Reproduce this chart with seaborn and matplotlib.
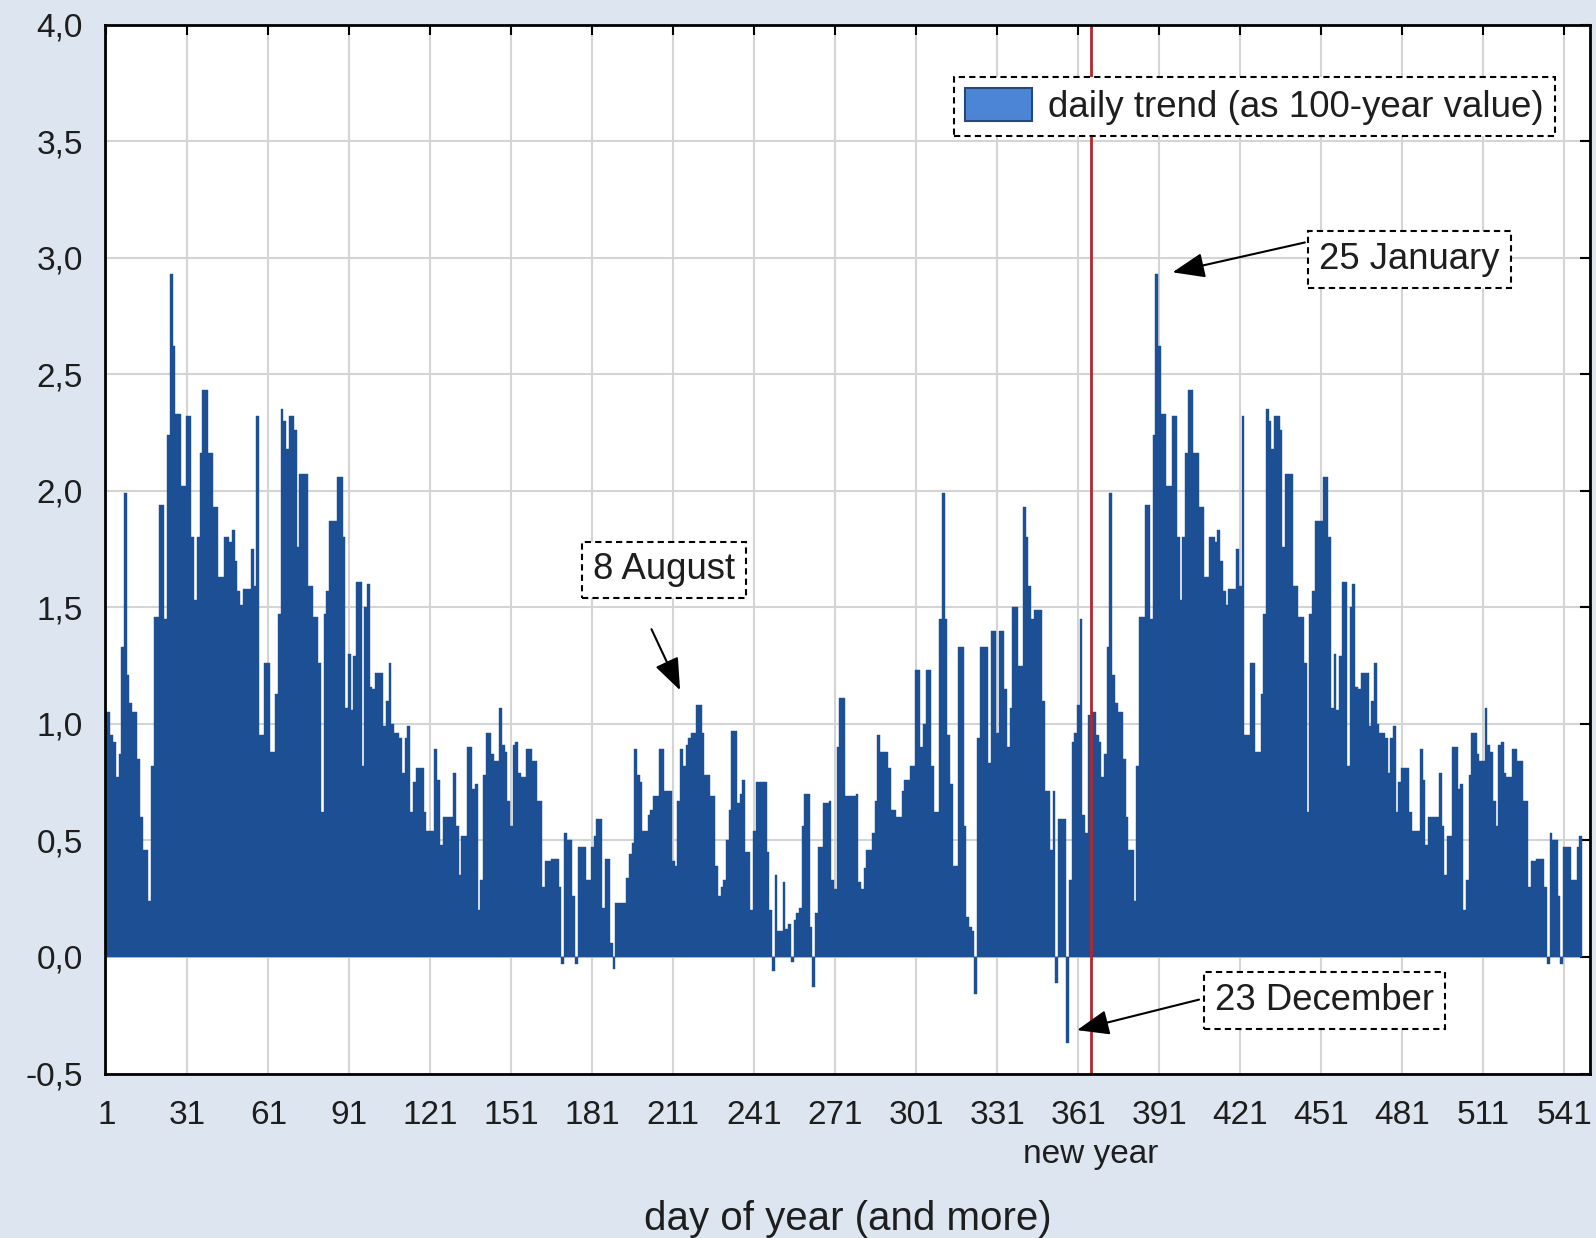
import numpy as np
import pandas as pd
import seaborn as sns
import matplotlib.pyplot as plt
from matplotlib.patches import Patch
from matplotlib.ticker import FuncFormatter
import matplotlib.transforms as mtransforms

# daily trend (as 100-year value) for day 1..365
year_trend = [
    1.05, 1.05, 0.95, 0.92, 0.77, 0.87, 1.33, 1.99, 1.21, 1.09,
    1.05, 1.05, 0.85, 0.60, 0.46, 0.46, 0.24, 0.82, 1.46, 1.46,
    1.94, 1.94, 1.45, 2.24, 2.93, 2.62, 2.33, 2.33, 2.02, 2.02,
    2.32, 2.32, 1.80, 1.53, 1.80, 2.16, 2.43, 2.43, 2.16, 2.16,
    1.93, 1.93, 1.63, 1.63, 1.80, 1.80, 1.78, 1.83, 1.70, 1.57,
    1.51, 1.58, 1.58, 1.58, 1.75, 1.59, 2.32, 0.95, 0.95, 1.26,
    1.26, 0.88, 0.88, 1.13, 1.47, 2.35, 2.30, 2.18, 2.32, 2.32,
    2.26, 1.76, 2.07, 2.07, 2.07, 1.59, 1.59, 1.46, 1.46, 1.26,
    0.62, 1.47, 1.57, 1.87, 1.87, 1.87, 2.06, 2.06, 1.80, 1.07,
    1.30, 1.06, 1.29, 1.61, 1.61, 0.82, 1.50, 1.60, 1.16, 1.15,
    1.22, 1.22, 1.22, 0.99, 1.10, 1.26, 1.00, 0.96, 0.96, 0.94,
    0.79, 0.94, 0.99, 0.62, 0.75, 0.81, 0.81, 0.81, 0.62, 0.54,
    0.54, 0.54, 0.89, 0.76, 0.48, 0.60, 0.60, 0.60, 0.60, 0.79,
    0.56, 0.35, 0.52, 0.52, 0.90, 0.90, 0.72, 0.74, 0.20, 0.33,
    0.78, 0.96, 0.96, 0.87, 0.84, 0.84, 1.07, 0.91, 0.88, 0.67,
    0.56, 0.91, 0.92, 0.79, 0.77, 0.77, 0.89, 0.89, 0.84, 0.84,
    0.67, 0.67, 0.30, 0.41, 0.41, 0.42, 0.42, 0.42, 0.30, -0.03,
    0.53, 0.50, 0.50, 0.26, -0.03, 0.47, 0.47, 0.47, 0.33, 0.33,
    0.47, 0.52, 0.59, 0.59, 0.21, 0.42, 0.42, 0.06, -0.05, 0.23,
    0.23, 0.23, 0.23, 0.34, 0.44, 0.49, 0.89, 0.78, 0.75, 0.54,
    0.54, 0.61, 0.63, 0.69, 0.69, 0.89, 0.89, 0.71, 0.71, 0.71,
    0.41, 0.39, 0.67, 0.89, 0.82, 0.91, 0.94, 0.96, 0.96, 1.08,
    1.08, 0.96, 0.78, 0.78, 0.69, 0.69, 0.39, 0.26, 0.30, 0.33,
    0.50, 0.63, 0.97, 0.97, 0.66, 0.70, 0.76, 0.45, 0.45, 0.20,
    0.54, 0.75, 0.75, 0.75, 0.75, 0.45, 0.20, -0.06, 0.35, 0.11,
    0.11, 0.32, 0.12, 0.14, -0.02, 0.16, 0.19, 0.21, 0.56, 0.70,
    0.70, 0.13, -0.13, 0.19, 0.47, 0.47, 0.66, 0.66, 0.67, 0.33,
    0.29, 0.90, 1.11, 1.11, 0.69, 0.69, 0.69, 0.69, 0.70, 0.32,
    0.29, 0.38, 0.46, 0.46, 0.53, 0.67, 0.95, 0.88, 0.88, 0.88,
    0.81, 0.63, 0.63, 0.60, 0.60, 0.71, 0.76, 0.76, 0.82, 0.82,
    1.23, 1.23, 0.90, 1.00, 1.23, 1.23, 0.82, 0.62, 0.62, 1.45,
    1.99, 1.45, 0.95, 0.74, 0.39, 0.39, 1.33, 1.33, 0.56, 0.17,
    0.13, 0.11, -0.16, 0.94, 1.33, 1.33, 1.33, 0.83, 1.40, 1.40,
    0.96, 1.40, 1.40, 1.15, 0.90, 1.07, 1.50, 1.50, 1.25, 1.25,
    1.93, 1.80, 1.59, 1.45, 1.49, 1.49, 1.49, 1.10, 0.71, 0.71,
    0.46, 0.71, -0.11, 0.59, 0.59, 0.59, -0.37, 0.33, 0.92, 0.96,
    1.08, 1.45, 0.61, 0.53, 1.04,
]
# chart runs on past new year: days 366..547 are Jan 1 .. Jul 1 again
extra_days = 182
trend = year_trend + year_trend[:extra_days]
days = list(range(1, len(trend) + 1))

xticks = list(range(1, 542, 30))
yticks = [-0.5, 0.0, 0.5, 1.0, 1.5, 2.0, 2.5, 3.0, 3.5, 4.0]
new_year = 365.5

# (label, text centre, arrow tail, arrow head) in data units
notes = [
    ("25 January", (483.6, 2.99), (444.9, 3.065), (395.9, 2.937)),
    ("8 August", (207.5, 1.66), (202.9, 1.406), (213.5, 1.144)),
    ("23 December", (452.2, -0.187), (405.7, -0.183), (360.5, -0.314)),
]

bar_color = "#1c4f93"
bg = "#dde6f0"
text_color = "#1e1e1e"

sns.set_style("white")
plt.rcParams["font.family"] = ["Liberation Sans", "DejaVu Sans"]

df = pd.DataFrame({"day": days, "trend": trend})

fig = plt.figure(figsize=(15.96, 12.38), dpi=100, facecolor=bg)
ax = fig.add_axes([105 / 1596, 1 - 1073.5 / 1238, 1485 / 1596, 1049 / 1238])
ax.set_facecolor("white")

sns.barplot(data=df, x="day", y="trend", native_scale=True, width=1,
            color=bar_color, saturation=1, errorbar=None,
            edgecolor=bar_color, linewidth=0.3, ax=ax)

ax.set_xlim(0.5, 550.5)
ax.set_ylim(-0.5, 4.0)
ax.set_xticks(xticks)
ax.set_yticks(yticks)
ax.yaxis.set_major_formatter(FuncFormatter(lambda v, p: f"{v:.1f}".replace(".", ",")))
ax.grid(True, color="#d4d4d4", linewidth=1.5)
ax.set_axisbelow(True)
ax.tick_params(direction="in", length=7, width=1.5, labelsize=24,
               top=True, right=True, colors="black", labelcolor=text_color)
ax.tick_params(axis="x", pad=19)
ax.tick_params(axis="y", pad=16)
for s in ax.spines.values():
    s.set_color("black")
    s.set_linewidth(2)

ax.axvline(new_year, color="#b3262e", linewidth=2)

trans = mtransforms.blended_transform_factory(ax.transData, ax.transAxes)
ax.text(new_year, -0.077, "new year", transform=trans, ha="center", va="center",
        fontsize=24, color=text_color)

ax.set_xlabel("day of year (and more)", fontsize=29, color=text_color)
ax.xaxis.set_label_coords(0.5, -0.121)
ax.set_ylabel("")

box = dict(boxstyle="square,pad=0.3", facecolor="white", edgecolor="black",
           linestyle=(0, (3, 2)), linewidth=1.5)
for label, (tx, ty), tail, head in notes:
    ax.annotate("", xy=head, xytext=tail,
                arrowprops=dict(arrowstyle="-|>,head_length=0.9,head_width=0.35",
                                color="black", lw=1.5, mutation_scale=22,
                                shrinkA=0, shrinkB=0))
    ax.text(tx, ty, label, ha="center", va="center", fontsize=26.3,
            color=text_color, bbox=box)

handle = Patch(facecolor="#4d85d6", edgecolor="#24487a", linewidth=1.5,
               label="daily trend (as 100-year value)")
leg = ax.legend(handles=[handle], loc="upper right", bbox_to_anchor=(0.9764, 0.9499),
                borderaxespad=0, fontsize=26.5, frameon=True, fancybox=False,
                framealpha=1, handlelength=1.8, handleheight=1.0,
                borderpad=0.3, handletextpad=0.45, labelcolor=text_color)
frame = leg.get_frame()
frame.set_edgecolor("black")
frame.set_linestyle((0, (3, 2)))
frame.set_linewidth(1.5)

fig.savefig("out.png", dpi=100, facecolor=bg)
